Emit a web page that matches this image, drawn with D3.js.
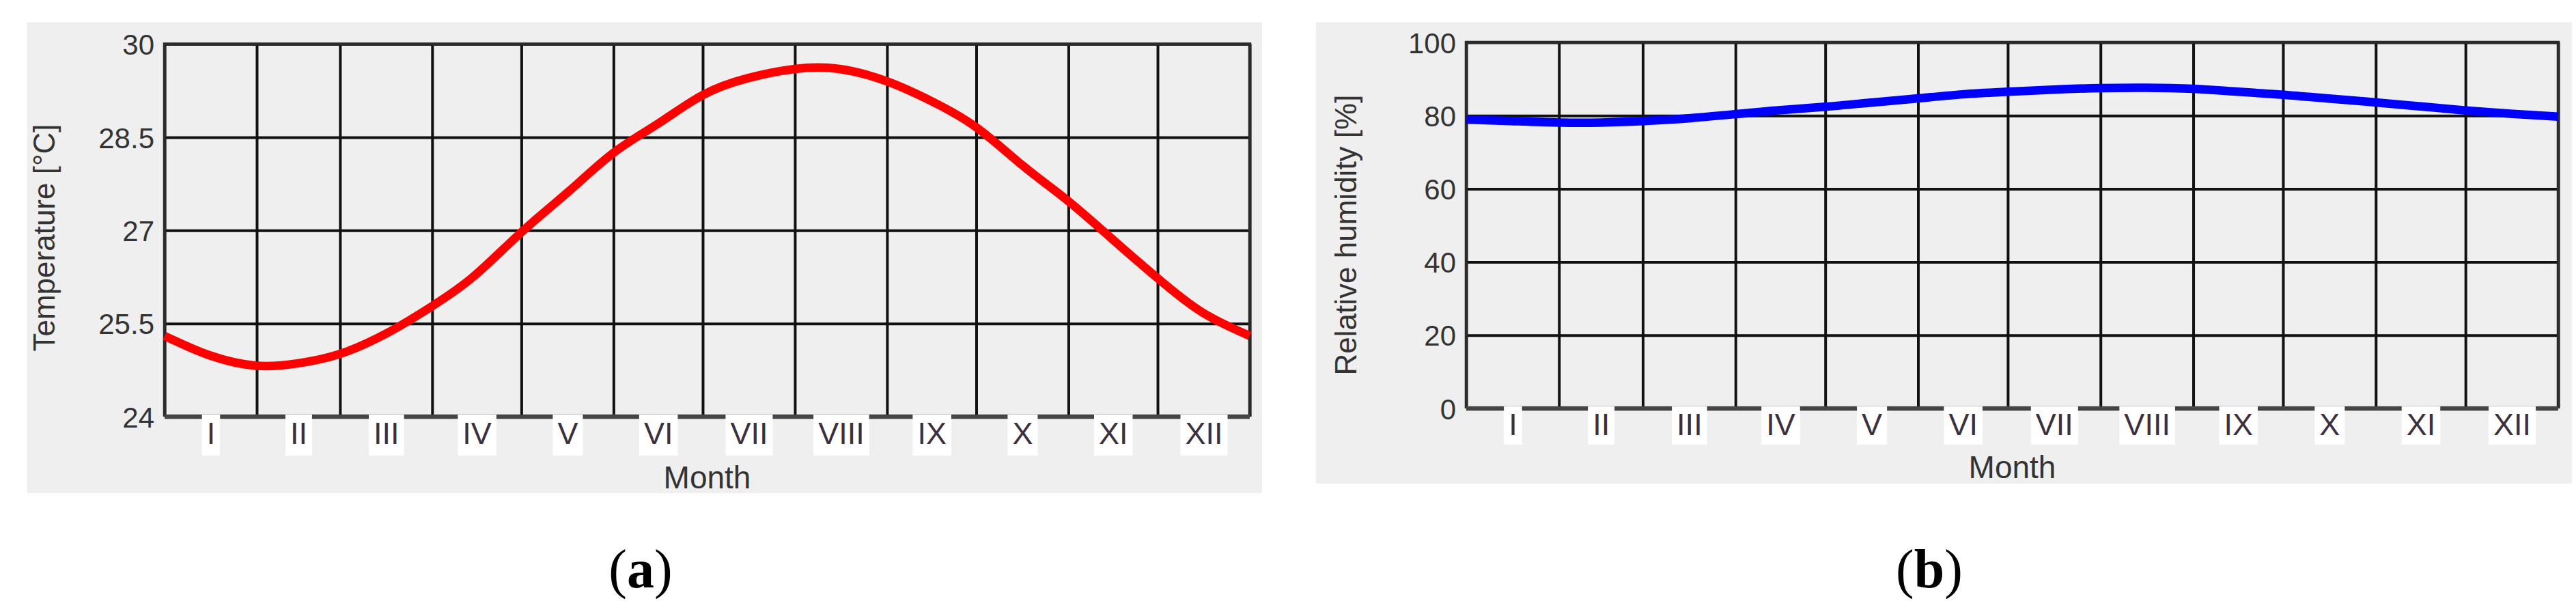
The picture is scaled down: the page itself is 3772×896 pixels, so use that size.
<!DOCTYPE html>
<html>
<head>
<meta charset="utf-8">
<script src="https://cdn.jsdelivr.net/npm/d3@7"></script>
<style>
  body { margin: 0; background: #ffffff; }
  text { font-family: "Liberation Sans", Arial, sans-serif; }
</style>
</head>
<body>
<svg></svg>
<script>
// month names and lengths (days)
var monthNames = ["I", "II", "III", "IV", "V", "VI", "VII", "VIII", "IX", "X", "XI", "XII"]
var monthDays = [31, 28, 31, 30, 31, 30, 31, 31, 30, 31, 30, 31]

// temperature (day of year -> °C)
var tempDays = [0, 15, 31, 45, 59, 75, 90, 104, 120, 136, 151, 166, 181, 196, 212, 227, 243, 258, 273, 289, 304, 319, 334, 349, 365]
var tempValues = [25.30, 24.99, 24.82, 24.86, 25.01, 25.35, 25.78, 26.26, 26.97, 27.63, 28.25, 28.72, 29.18, 29.45, 29.60, 29.60, 29.40, 29.08, 28.66, 28.03, 27.47, 26.85, 26.23, 25.68, 25.30]
var tempTicks = [24, 25.5, 27, 28.5, 30]

// relative humidity (day of year -> %)
var humDays = [0, 15, 31, 45, 59, 75, 90, 105, 120, 136, 151, 166, 181, 196, 212, 227, 243, 258, 273, 289, 304, 319, 334, 349, 365]
var humValues = [78.9, 78.5, 78.1, 78.1, 78.5, 79.3, 80.4, 81.5, 82.4, 83.6, 84.7, 85.8, 86.5, 87.1, 87.5, 87.6, 87.3, 86.5, 85.7, 84.6, 83.6, 82.5, 81.4, 80.5, 79.7]
var humTicks = [0, 20, 40, 60, 80, 100]

var svgWidth = 3772,
    svgHeight = 896

var svg = d3.select("svg")
    .attr("width", svgWidth)
    .attr("height", svgHeight)

// month boundaries and centres in days
var monthEdges = [0]
monthDays.forEach((d, i) => monthEdges.push(monthEdges[i] + d))
var monthMids = monthDays.map((d, i) => monthEdges[i] + d / 2)

function drawPanel(p) {
    var w = p.right - p.left,
        h = p.bottom - p.top

    svg.append("rect")
        .attr("x", p.bgX).attr("y", p.bgY)
        .attr("width", p.bgW).attr("height", p.bgH)
        .attr("fill", "#efefef")

    var g = svg.append("g")
        .attr("transform", "translate(" + p.left + "," + p.top + ")")

    var x = d3.scaleLinear().domain([0, 365]).range([0, w])
    var y = d3.scaleLinear().domain(p.domain).range([h, 0])

    // horizontal grid + tick labels
    var yAxis = g.append("g")
        .call(d3.axisLeft(y).tickValues(p.ticks).tickSize(-w).tickPadding(15)
            .tickFormat((d) => String(d)))
    yAxis.select(".domain").remove()
    yAxis.selectAll("line").attr("stroke", "#111").attr("stroke-width", 4)
    yAxis.selectAll("text")
        .attr("font-size", 42)
        .attr("fill", "#333")
        .attr("dy", "0.36em")
        .style("font-family", "'Liberation Sans', Arial, sans-serif")

    // vertical grid at month boundaries
    var vAxis = g.append("g")
        .call(d3.axisTop(x).tickValues(monthEdges).tickSize(-h).tickFormat(""))
    vAxis.select(".domain").remove()
    vAxis.selectAll("line").attr("stroke", "#111").attr("stroke-width", 4)

    // frame: top, left, right
    g.append("path")
        .attr("d", "M0," + h + "V0H" + w + "V" + h)
        .attr("fill", "none")
        .attr("stroke", "#2a2a2a")
        .attr("stroke-width", 4.5)

    // bottom axis line
    g.append("line")
        .attr("x1", 0).attr("x2", w)
        .attr("y1", h).attr("y2", h)
        .attr("stroke", "#444")
        .attr("stroke-width", 6.5)

    // month labels on white boxes
    var mAxis = g.append("g")
        .attr("transform", "translate(0," + h + ")")
        .call(d3.axisBottom(x).tickValues(monthMids).tickSize(0)
            .tickFormat((d, i) => monthNames[i]))
    mAxis.select(".domain").remove()
    mAxis.selectAll("text")
        .attr("y", p.labelY)
        .attr("dy", "0.36em")
        .attr("font-size", 45)
        .attr("fill", "#3a3040")
        .style("font-family", "'Liberation Sans', Arial, sans-serif")
    mAxis.selectAll(".tick").each(function () {
        var t = d3.select(this).select("text")
        var bb = t.node().getBBox()
        d3.select(this).insert("rect", "text")
            .attr("x", bb.x - 7)
            .attr("y", -3)
            .attr("width", bb.width + 14)
            .attr("height", p.boxH)
            .attr("fill", "#ffffff")
    })

    // data line
    var line = d3.line()
        .x((d, i) => x(p.days[i]))
        .y((d) => y(d))
        .curve(d3.curveNatural)

    g.append("path")
        .datum(p.values)
        .attr("d", line)
        .attr("fill", "none")
        .attr("stroke", p.color)
        .attr("stroke-width", 12.5)

    // axis titles
    svg.append("text")
        .attr("transform", "translate(" + p.titleX + "," + p.titleY + ") rotate(-90)")
        .attr("text-anchor", "middle")
        .attr("font-size", 44)
        .attr("fill", "#333")
        .text(p.yTitle)

    svg.append("text")
        .attr("x", (p.left + p.right) / 2)
        .attr("y", p.monthY)
        .attr("text-anchor", "middle")
        .attr("font-size", 46)
        .attr("fill", "#333")
        .text("Month")

    // caption
    var cap = svg.append("text")
        .attr("x", p.capX)
        .attr("y", 860)
        .attr("text-anchor", "middle")
        .attr("font-size", 80)
        .attr("fill", "#000")
        .style("font-family", "'Liberation Serif', 'Times New Roman', serif")
    cap.append("tspan").text("(")
    cap.append("tspan").attr("font-weight", "bold").text(p.cap)
    cap.append("tspan").text(")")
}

drawPanel({
    bgX: 39.5, bgY: 32.5, bgW: 1808.5, bgH: 689.5,
    left: 241, right: 1830, top: 64.6, bottom: 610,
    domain: [24, 30], ticks: tempTicks,
    days: tempDays, values: tempValues, color: "#ff0000",
    labelY: 24, boxH: 60,
    yTitle: "Temperature [°C]", titleX: 80, titleY: 348,
    monthY: 715, capX: 938, cap: "a"
})

drawPanel({
    bgX: 1927, bgY: 32.5, bgW: 1839, bgH: 675.5,
    left: 2147, right: 3746, top: 62, bottom: 598,
    domain: [0, 100], ticks: humTicks,
    days: humDays, values: humValues, color: "#0000ff",
    labelY: 23, boxH: 56,
    yTitle: "Relative humidity [%]", titleX: 1986, titleY: 344,
    monthY: 700, capX: 2825, cap: "b"
})
</script>
</body>
</html>
